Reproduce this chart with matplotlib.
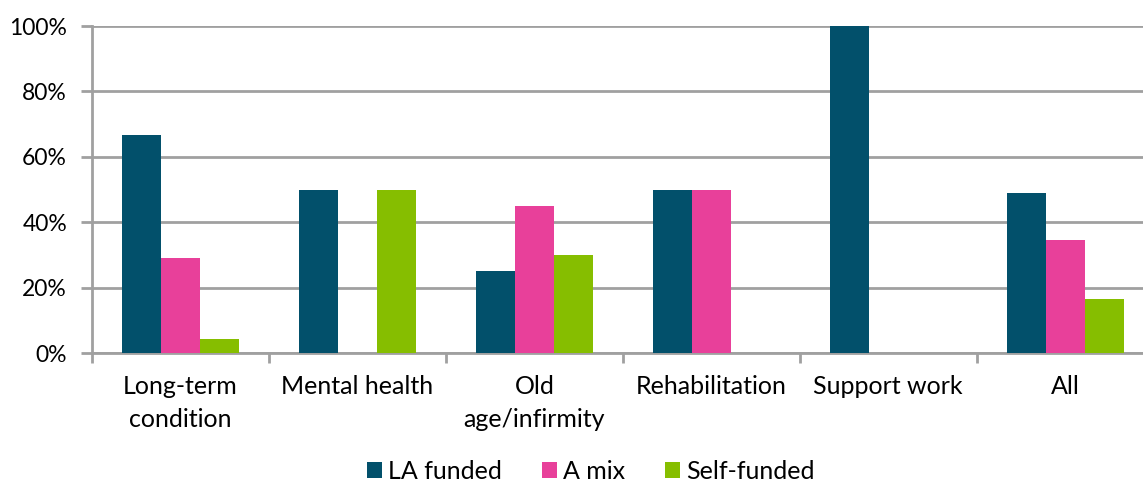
#!/usr/bin/env python3
"""Funding source by primary support reason - grouped bar chart."""

import matplotlib
matplotlib.use("Agg")
import matplotlib.pyplot as plt
import numpy as np

categories = ["Long-term\ncondition", "Mental health", "Old\nage/infirmity",
              "Rehabilitation", "Support work", "All"]
la_funded = [66.7, 50, 25, 50, 100, 49]
a_mix = [29.2, 0, 45, 50, 0, 34.6]
self_funded = [4.2, 50, 30, 0, 0, 16.4]

series = [("LA funded", la_funded, "#02506b"),
          ("A mix", a_mix, "#e8409a"),
          ("Self-funded", self_funded, "#86be00")]

plt.rcParams['font.family'] = ['Lato', 'DejaVu Sans']

fig = plt.figure(figsize=(11.43, 4.83), dpi=100)
ax = fig.add_axes([92 / 1143, 1 - 353 / 483, 1 - 92 / 1143, (353 - 26) / 483])

x = np.arange(len(categories))
w = 0.22
for i, (nom, vals, col) in enumerate(series):
    ax.bar(x + (i - 1) * w, vals, w, color=col, label=nom, zorder=3)

ax.set_ylim(0, 100)
ax.set_xlim(-0.5, 5.44)
ax.set_yticks(range(0, 101, 20))
ax.set_yticklabels([f"{v}%" for v in range(0, 101, 20)], fontsize=16.5)
ax.yaxis.grid(True, color="#a0a0a0", linewidth=2, zorder=0)

# ticks at the category boundaries, labels centred
ax.set_xticks(np.arange(-0.5, 5.5, 1))
ax.set_xticklabels([])
ax.set_xticks(x, minor=True)
ax.set_xticklabels(categories, minor=True, fontsize=18, linespacing=1.5)
ax.tick_params(axis="x", which="minor", length=0, pad=16)
ax.tick_params(axis="x", which="major", length=7, width=2, color="#a0a0a0", direction="out")
ax.tick_params(axis="y", length=8, width=2, color="#a0a0a0", pad=10)

for s in ["top", "right"]:
    ax.spines[s].set_visible(False)
ax.spines["left"].set_color("#a0a0a0")
ax.spines["left"].set_linewidth(2)
ax.spines["bottom"].set_color("#a0a0a0")
ax.spines["bottom"].set_linewidth(2)

fig.legend(loc="lower center", ncol=3, frameon=False, fontsize=18,
           bbox_to_anchor=(0.517, -0.047), handlelength=0.6, handleheight=0.6,
           handletextpad=0.25, columnspacing=1.6)

fig.savefig("out.png", dpi=100)
